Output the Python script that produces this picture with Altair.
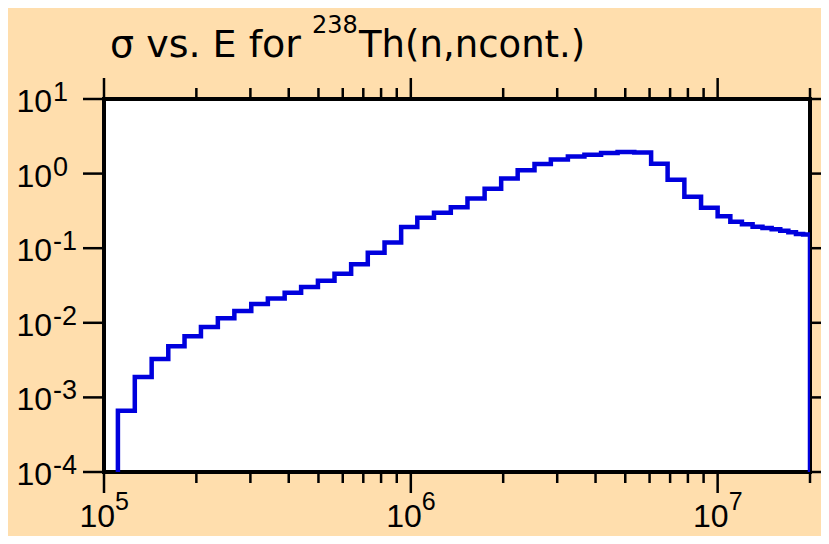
import altair as alt
import pandas as pd

# bin edges (eV) and cross sections (b)
edges = [1.11e5, 1.26e5, 1.43e5, 1.62e5, 1.83e5, 2.07e5, 2.35e5, 2.66e5, 3.02e5,
         3.42e5, 3.88e5, 4.39e5, 4.98e5, 5.64e5, 6.39e5, 7.24e5, 8.21e5, 9.30e5,
         1.05e6, 1.19e6, 1.35e6, 1.53e6, 1.74e6, 1.97e6, 2.23e6, 2.53e6, 2.86e6,
         3.25e6, 3.68e6, 4.17e6, 4.72e6, 5.35e6, 6.07e6, 6.87e6, 7.79e6, 8.83e6,
         1.0e7, 1.1e7, 1.2e7, 1.3e7, 1.4e7, 1.5e7, 1.6e7, 1.7e7, 1.8e7, 1.9e7, 2.0e7]
sigma = [6.6e-4, 1.87e-3, 3.26e-3, 4.86e-3, 6.6e-3, 8.8e-3, 1.15e-2, 1.44e-2,
         1.78e-2, 2.12e-2, 2.52e-2, 3.03e-2, 3.65e-2, 4.53e-2, 6.10e-2, 8.7e-2,
         0.119, 0.192, 0.256, 0.299, 0.355, 0.463, 0.625, 0.857, 1.11, 1.35, 1.54,
         1.70, 1.79, 1.89, 1.95, 1.92, 1.36, 0.83, 0.49, 0.348,
         0.269, 0.226, 0.209, 0.194, 0.187, 0.179, 0.171, 0.163, 0.155, 0.153]

x_major = [1e5, 1e6, 1e7]
x_major_exp = ["5", "6", "7"]
x_minor = [2e5, 3e5, 4e5, 5e5, 6e5, 7e5, 8e5, 9e5,
           2e6, 3e6, 4e6, 5e6, 6e6, 7e6, 8e6, 9e6, 2e7]
y_major = [10, 1, 0.1, 0.01, 0.001, 0.0001]
y_major_exp = ["1", "0", "-1", "-2", "-3", "-4"]

Y_FLOOR = 1e-4
rows = [{"i": 0, "E": edges[0], "s": Y_FLOOR}]
for k, v in enumerate(sigma):
    rows.append({"i": k + 1, "E": edges[k], "s": v})
rows.append({"i": len(sigma) + 1, "E": edges[-1], "s": sigma[-1]})
rows.append({"i": len(sigma) + 2, "E": edges[-1], "s": Y_FLOOR})
line_df = pd.DataFrame(rows)

W, H = 706, 373
xs = alt.Scale(type="log", domain=[1e5, 2e7], nice=False)
ys = alt.Scale(type="log", domain=[1e-4, 10], nice=False)

line = alt.Chart(line_df).mark_line(
    interpolate="step-after", color="#0000DD", strokeWidth=4.5, clip=True
).encode(
    x=alt.X("E:Q", scale=xs, axis=None),
    y=alt.Y("s:Q", scale=ys, axis=None),
    order="i:Q",
)

xmaj_df = pd.DataFrame({"E": x_major, "exp": x_major_exp, "base": ["10"] * 3})
xmin_df = pd.DataFrame({"E": x_minor})
ymaj_df = pd.DataFrame({"s": y_major, "exp": y_major_exp, "base": ["10"] * 6})

TW = 2.5
def xtick(df, y1, y2):
    return alt.Chart(df).mark_rule(color="black", strokeWidth=TW).encode(
        x=alt.X("E:Q", scale=xs, axis=None), y=alt.value(y1), y2=alt.value(y2))

def ytick(x1, x2):
    return alt.Chart(ymaj_df).mark_rule(color="black", strokeWidth=TW).encode(
        y=alt.Y("s:Q", scale=ys, axis=None), x=alt.value(x1), x2=alt.value(x2))

ticks = [
    xtick(xmaj_df, H, H + 21), xtick(xmin_df, H, H + 11),
    xtick(xmaj_df, 0, -21), xtick(xmin_df, 0, -11),
    ytick(0, -21), ytick(W, W + 21),
]

FONT = "Liberation Sans"
xlab_base = alt.Chart(xmaj_df).mark_text(
    align="right", baseline="alphabetic", font=FONT, fontSize=32, dx=11, color="black"
).encode(x=alt.X("E:Q", scale=xs, axis=None), y=alt.value(H + 55), text="base:N")
xlab_exp = alt.Chart(xmaj_df).mark_text(
    align="left", baseline="alphabetic", font=FONT, fontSize=25, dx=11, color="black"
).encode(x=alt.X("E:Q", scale=xs, axis=None), y=alt.value(H + 38), text="exp:N")

ylab_base = alt.Chart(ymaj_df).mark_text(
    align="right", baseline="alphabetic", font=FONT, fontSize=32, dy=13, color="black"
).encode(y=alt.Y("s:Q", scale=ys, axis=None), x=alt.value(-52), text="base:N")
ylab_exp = alt.Chart(ymaj_df).mark_text(
    align="left", baseline="alphabetic", font=FONT, fontSize=27, dy=2, color="black"
).encode(y=alt.Y("s:Q", scale=ys, axis=None), x=alt.value(-51), text="exp:N")

title_main = alt.Chart(pd.DataFrame({"t": ["σ vs. E for"]})).mark_text(
    align="left", baseline="alphabetic", font="DejaVu Sans", fontSize=38, color="black"
).encode(x=alt.value(6), y=alt.value(-42), text="t:N")
title_sup = alt.Chart(pd.DataFrame({"t": ["238"]})).mark_text(
    align="left", baseline="alphabetic", font="DejaVu Sans", fontSize=24, color="black"
).encode(x=alt.value(208), y=alt.value(-66), text="t:N")
title_rest = alt.Chart(pd.DataFrame({"t": ["Th(n,ncont.)"]})).mark_text(
    align="left", baseline="alphabetic", font="DejaVu Sans", fontSize=37, color="black"
).encode(x=alt.value(255), y=alt.value(-42), text="t:N")

chart = alt.layer(
    line, *ticks, xlab_base, xlab_exp, ylab_base, ylab_exp,
    title_main, title_sup, title_rest
).properties(
    width=W, height=H,
    autosize=alt.AutoSizeParams(type="none"),
    padding={"left": 96, "top": 91, "right": 11, "bottom": 64},
    background="#FFDEAD",
).configure_view(
    fill="white", stroke="black", strokeWidth=4
)

chart.save("out.html", embed_options={"renderer": "svg", "actions": False})
